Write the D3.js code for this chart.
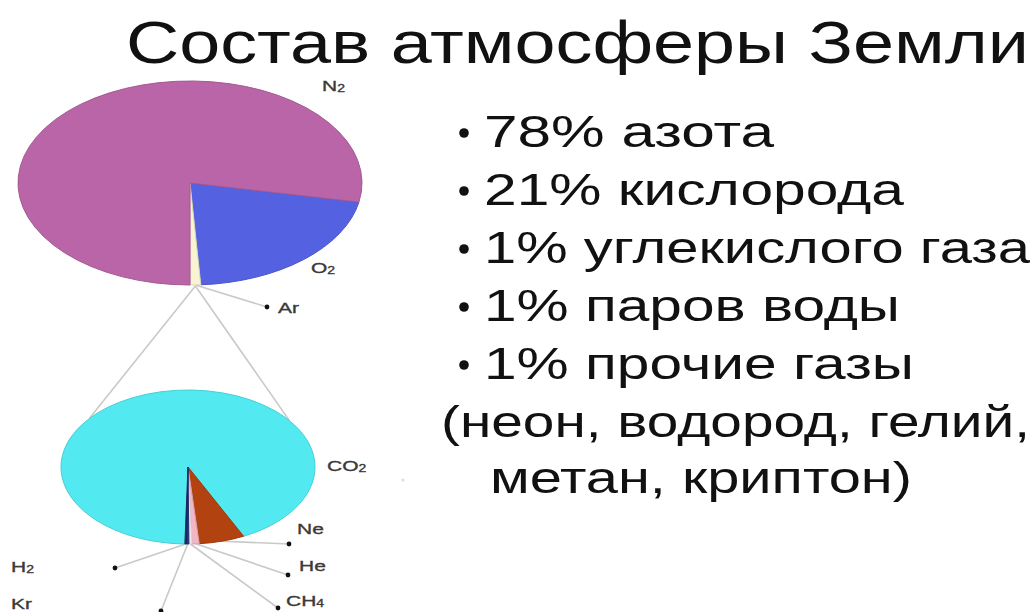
<!DOCTYPE html>
<html>
<head>
<meta charset="utf-8">
<script src="https://cdn.jsdelivr.net/npm/d3@7"></script>
<style>
	body { margin: 0; background: #fff; }
	text { font-family: "Liberation Sans", Arial, sans-serif; }
</style>
</head>
<body>
<div id="chart-area"></div>
<script>
const WIDTH = 1036
const HEIGHT = 612

// whole atmosphere, %
const mainGases = ["O2", "Ar", "N2"]
const mainValues = [21, 1, 78]
const mainColors = ["#5462e2", "#f8f4d2", "#b965a7"]

// the small remainder, share inside it, %
const minorGases = ["CO2", "Ne", "He", "CH4", "Kr", "H2"]
const minorValues = [92.4, 5.8, 0.9, 0.4, 0.3, 0.2]
const minorColors = ["#52e9f1", "#b2420f", "#f2b6c4", "#f7e6ea", "#27367e", "#1d2a6a"]

const titleText = "Состав атмосферы Земли"
const bulletLines = ["78% азота", "21% кислорода", "1% углекислого газа", "1% паров воды", "1% прочие газы"]
const noteLines = ["(неон, водород, гелий,", "метан, криптон)"]

// layout
const TOP = { cx: 190, cy: 183, rx: 172, ry: 102, start: 100.8 }
const BOTTOM = { cx: 188, cy: 467, rx: 127, ry: 77, start: -178.6 }
const labelPos = {
	N2: { tx: 322, ty: 91 },
	O2: { tx: 311, ty: 273 },
	Ar: { tx: 278, ty: 313, dot: [267, 307] },
	CO2: { tx: 327, ty: 471 },
	Ne: { tx: 297, ty: 534, dot: [289, 544] },
	He: { tx: 299, ty: 571, dot: [288, 575] },
	CH4: { tx: 286, ty: 606, dot: [278, 608] },
	Kr: { tx: 11, ty: 609, dot: [161, 611] },
	H2: { tx: 11, ty: 572, dot: [115, 568] }
}
const LINE_COLOR = "#c9c9c9"

const svg = d3.select("#chart-area").append("svg")
	.attr("width", WIDTH)
	.attr("height", HEIGHT)

const rad = deg => deg * Math.PI / 180

// point on the rim of an elliptical pie at a pie angle
const rim = (p, a) => [p.cx + p.rx * Math.sin(a), p.cy - p.ry * Math.cos(a)]

function drawPie(p, names, values, colors) {
	const pie = d3.pie().sort(null)
		.startAngle(rad(p.start))
		.endAngle(rad(p.start) + 2 * Math.PI)
	const arc = d3.arc().innerRadius(0).outerRadius(p.rx)
	const arcs = pie(values)

	svg.append("g")
		.attr("transform", `translate(${p.cx}, ${p.cy}) scale(1, ${p.ry / p.rx})`)
		.selectAll("path")
		.data(arcs)
		.enter().append("path")
		.attr("d", arc)
		.attr("fill", (d, i) => colors[i])
		.attr("stroke", (d, i) => d3.color(colors[i]).darker(0.35))
		.attr("stroke-width", 1)
		.attr("vector-effect", "non-scaling-stroke")

	return arcs.map((d, i) => ({ name: names[i], mid: rim(p, (d.startAngle + d.endAngle) / 2) }))
}

// connector lines first so the pies sit on top
const lines = svg.append("g")
const dots = svg.append("g")

const topSlices = drawPie(TOP, mainGases, mainValues, mainColors)
const ar = topSlices.find(d => d.name == "Ar")

// zoom lines from the Ar slice down to the second pie
;[-141, -37].forEach(t => {
	lines.append("line")
		.attr("x1", ar.mid[0]).attr("y1", ar.mid[1] + 1)
		.attr("x2", BOTTOM.cx + BOTTOM.rx * Math.cos(rad(t)))
		.attr("y2", BOTTOM.cy + BOTTOM.ry * Math.sin(rad(t)))
		.attr("stroke", LINE_COLOR)
		.attr("stroke-width", 1.6)
})

const bottomSlices = drawPie(BOTTOM, minorGases, minorValues, minorColors)

// labels with subscript digits
function label(name) {
	const pos = labelPos[name]
	const t = svg.append("text")
		.attr("transform", `translate(${pos.tx}, ${pos.ty}) scale(1.4, 1)`)
		.attr("font-size", "15px")
		.attr("fill", "#3a3a3a")
		.attr("stroke", "#3a3a3a")
		.attr("stroke-width", 0.35)
	name.split(/(\d)/).filter(s => s).forEach(s => {
		const sub = /\d/.test(s)
		t.append("tspan")
			.attr("font-size", sub ? "10px" : "15px")
			.attr("dy", sub ? 1 : 0)
			.text(s)
	})
	if (pos.dot) {
		dots.append("circle")
			.attr("cx", pos.dot[0]).attr("cy", pos.dot[1])
			.attr("r", 2.4)
			.attr("fill", "#111")
	}
}

topSlices.concat(bottomSlices).forEach(s => {
	const pos = labelPos[s.name]
	if (pos.dot) {
		lines.append("line")
			.attr("x1", s.mid[0]).attr("y1", s.mid[1])
			.attr("x2", pos.dot[0]).attr("y2", pos.dot[1])
			.attr("stroke", LINE_COLOR)
			.attr("stroke-width", 1.6)
	}
	label(s.name)
})

// faint mark next to CO2
svg.append("circle")
	.attr("cx", 403).attr("cy", 480).attr("r", 1.5)
	.attr("fill", "#ddd")

// title
svg.append("text")
	.attr("x", 126)
	.attr("y", 63)
	.attr("font-size", "59px")
	.attr("fill", "#111")
	.attr("textLength", 903)
	.attr("lengthAdjust", "spacingAndGlyphs")
	.text(titleText)

// bullet list
const listWidths = [290, 420, 546, 416, 430]
const list = svg.append("g")
bulletLines.forEach((s, i) => {
	const y = 147 + i * 58
	list.append("circle")
		.attr("cx", 464).attr("cy", y - 14).attr("r", 4.8)
		.attr("fill", "#111")
	list.append("text")
		.attr("x", 484).attr("y", y)
		.attr("font-size", "44px")
		.attr("fill", "#111")
		.attr("textLength", listWidths[i])
		.attr("lengthAdjust", "spacingAndGlyphs")
		.text(s)
})

const noteX = [441, 490]
const noteWidths = [589, 422]
noteLines.forEach((s, i) => {
	list.append("text")
		.attr("x", noteX[i]).attr("y", 437 + i * 56)
		.attr("font-size", "44px")
		.attr("fill", "#111")
		.attr("textLength", noteWidths[i])
		.attr("lengthAdjust", "spacingAndGlyphs")
		.text(s)
})
</script>
</body>
</html>
